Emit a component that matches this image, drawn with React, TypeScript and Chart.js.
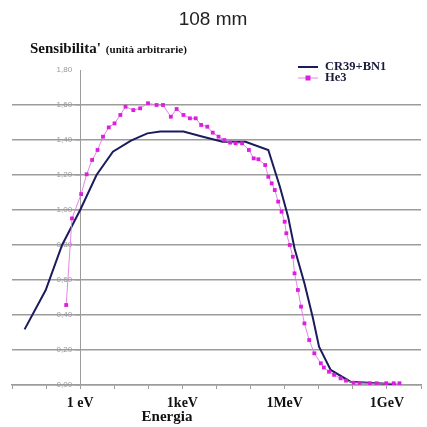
import React, { useEffect, useRef } from "react";
import { Chart, registerables } from "chart.js";

Chart.register(...registerables);

// ---------- data ----------
const TITLE = "108 mm";
const Y_TITLE_MAIN = "Sensibilita'";
const Y_TITLE_SUB = "(unità arbitrarie)";
const X_TITLE = "Energia";

// x tick labels, by decade exponent of energy in eV
const xTickExponents = [-2, -1, 0, 1, 2, 3, 4, 5, 6, 7, 8, 9, 10];
const xTickLabels = ["", "", "1 eV", "", "", "1keV", "", "", "1MeV", "", "", "1GeV", ""];

const seriesNames = ["CR39+BN1", "He3"];

// CR39+BN1 (energy in eV, sensitivity)
const cr39Energy = [
  0.0234, 0.0977, 0.295, 1, 3.02, 9.12, 30.9, 93.3, 224, 1072, 3981, 15136, 70795,
  331131, 724436, 1.26e6, 1.95e6, 3.8e6, 6.61e6, 1.02e7, 2.24e7, 8.51e7, 1.82e9,
];
const cr39Values = [
  0.318, 0.543, 0.8, 1.0, 1.2, 1.333, 1.396, 1.438, 1.448, 1.448, 1.419, 1.39, 1.39,
  1.343, 1.133, 0.962, 0.78, 0.581, 0.39, 0.219, 0.086, 0.019, 0.005,
];

// He3 (energy in eV, sensitivity)
const he3Energy = [
  0.389, 0.575, 1.07, 1.55, 2.24, 3.24, 4.68, 6.92, 10.2, 15.1, 21.4, 36.3, 57.5, 97.7,
  174, 269, 457, 676, 1072, 1660, 2455, 3548, 5370, 7762, 11482, 16982, 25119, 36308,
  56234, 89125, 123027, 169824, 269153, 331131, 416869, 512861, 645654, 812831, 1.0e6,
  1.12e6, 1.41e6, 1.74e6, 1.95e6, 2.45e6, 3.02e6, 3.8e6, 5.25e6, 7.41e6, 1.15e7, 1.41e7,
  2.0e7, 2.82e7, 4.37e7, 6.31e7, 1.05e8, 1.58e8, 3.16e8, 5.0e8, 9.55e8, 1.58e9, 2.34e9,
];
const he3Values = [
  0.457, 0.952, 1.091, 1.204, 1.286, 1.343, 1.419, 1.472, 1.495, 1.543, 1.59, 1.571, 1.581,
  1.61, 1.6, 1.6, 1.533, 1.577, 1.543, 1.524, 1.524, 1.486, 1.476, 1.442, 1.419, 1.4, 1.385,
  1.381, 1.381, 1.343, 1.295, 1.29, 1.257, 1.19, 1.152, 1.114, 1.048, 0.99, 0.933, 0.867,
  0.8, 0.733, 0.638, 0.543, 0.448, 0.352, 0.257, 0.181, 0.124, 0.1, 0.076, 0.058, 0.038,
  0.025, 0.013, 0.012, 0.01, 0.01, 0.01, 0.01, 0.01,
];

const Y_MIN = 0;
const Y_MAX = 1.8;
const Y_STEP = 0.2;

// ---------- styles ----------
const NAVY = "#1b1b5e";
const MAGENTA = "#dc1fdc";
const MAGENTA_LINE = "rgba(226,120,226,0.9)";
const GRID = "#9c9c9c";
const SERIF = '"Liberation Serif", "Times New Roman", serif';
const SANS = '"Liberation Sans", Arial, sans-serif';

const textPlugin = {
  id: "customTexts",
  afterDraw(chart: any) {
    const ctx = chart.ctx as CanvasRenderingContext2D;
    ctx.save();
    // title
    ctx.fillStyle = "#222";
    ctx.font = `19px ${SANS}`;
    ctx.textAlign = "center";
    ctx.textBaseline = "alphabetic";
    ctx.fillText(TITLE, 213, 25);

    // y title
    ctx.textAlign = "left";
    ctx.fillStyle = "#111";
    ctx.font = `bold 15px ${SERIF}`;
    ctx.fillText(Y_TITLE_MAIN, 30, 53);
    const w = ctx.measureText(Y_TITLE_MAIN).width;
    ctx.font = `bold 11px ${SERIF}`;
    ctx.fillText(Y_TITLE_SUB, 30 + w + 5, 53);

    // x title
    ctx.font = `bold 15px ${SERIF}`;
    ctx.textAlign = "center";
    ctx.fillText(X_TITLE, 167, 421);

    // legend
    const ds = chart.data.datasets;
    ctx.textAlign = "left";
    ctx.textBaseline = "middle";
    ctx.font = `bold 12.5px ${SERIF}`;
    // row 1
    ctx.strokeStyle = NAVY;
    ctx.lineWidth = 2;
    ctx.beginPath();
    ctx.moveTo(298, 67);
    ctx.lineTo(318, 67);
    ctx.stroke();
    ctx.fillStyle = "#1a1a3a";
    ctx.fillText(ds[1].label, 325, 67);
    // row 2
    ctx.strokeStyle = MAGENTA_LINE;
    ctx.lineWidth = 1;
    ctx.beginPath();
    ctx.moveTo(298, 78);
    ctx.lineTo(318, 78);
    ctx.stroke();
    ctx.fillStyle = MAGENTA;
    ctx.fillRect(305.5, 75.5, 5, 5);
    ctx.fillStyle = "#1a1a3a";
    ctx.fillText(ds[0].label, 325, 78);
    ctx.restore();
  },
};

export default function App() {
  const ref = useRef<HTMLCanvasElement | null>(null);

  useEffect(() => {
    if (!ref.current) return;
    const he3 = he3Energy.map((e, i) => ({ x: e, y: he3Values[i] }));
    const cr = cr39Energy.map((e, i) => ({ x: e, y: cr39Values[i] }));

    const chart = new Chart(ref.current, {
      type: "scatter",
      data: {
        datasets: [
          {
            label: seriesNames[1],
            data: he3,
            showLine: true,
            borderColor: MAGENTA_LINE,
            borderWidth: 1,
            pointStyle: "rect",
            pointRadius: 2.7,
            pointBackgroundColor: MAGENTA,
            pointBorderColor: MAGENTA,
            pointBorderWidth: 0,
            order: 0,
          },
          {
            label: seriesNames[0],
            data: cr,
            showLine: true,
            borderColor: NAVY,
            borderWidth: 2,
            pointRadius: 0,
            tension: 0,
            order: 1,
          },
        ],
      },
      options: {
        animation: false,
        responsive: false,
        maintainAspectRatio: false,
        devicePixelRatio: 1,
        layout: { padding: { top: 70, left: 12, right: 0, bottom: 0 } },
        plugins: {
          legend: { display: false },
          title: { display: false },
          tooltip: { enabled: false },
        },
        scales: {
          x: {
            type: "logarithmic",
            position: "bottom",
            min: Math.pow(10, xTickExponents[0]),
            max: Math.pow(10, xTickExponents[xTickExponents.length - 1]),
            afterBuildTicks: (scale: any) => {
              scale.ticks = xTickExponents.map((p) => ({ value: Math.pow(10, p) }));
            },
            afterFit: (scale: any) => {
              scale.height = 42;
            },
            ticks: {
              autoSkip: false,
              maxRotation: 0,
              padding: 6,
              color: "#111",
              font: { family: SERIF, size: 14, weight: "bold" },
              callback: (value: any) => {
                const p = Math.round(Math.log10(Number(value)));
                const idx = xTickExponents.indexOf(p);
                return idx >= 0 ? xTickLabels[idx] : "";
              },
            },
            grid: {
              drawOnChartArea: false,
              drawTicks: true,
              tickLength: 4,
              color: GRID,
            },
            border: { display: true, color: GRID, width: 1.5 },
          },
          y: {
            type: "linear",
            position: { x: 1 } as any,
            min: Y_MIN,
            max: Y_MAX,
            ticks: {
              stepSize: Y_STEP,
              color: "#999",
              font: { family: SANS, size: 8 },
              // trailing spaces keep the right-aligned labels clear of the axis line
              callback: (v: any) => Number(v).toFixed(2).replace(".", ",") + "\u2002\u2002",
            },
            grid: {
              color: (c: any) =>
                c.tick && Math.abs(c.tick.value - Y_MAX) < 1e-6 ? "rgba(0,0,0,0)" : GRID,
              lineWidth: 1.5,
              drawTicks: true,
              tickLength: 5,
            },
            border: { display: true, color: GRID, width: 1 },
          },
        },
      },
      plugins: [textPlugin],
    });
    return () => chart.destroy();
  }, []);

  return (
    <div style={{ position: "absolute", left: 0, top: 0, width: 427, height: 427, background: "#fff" }}>
      <canvas ref={ref} width={427} height={427} style={{ display: "block" }} />
    </div>
  );
}
